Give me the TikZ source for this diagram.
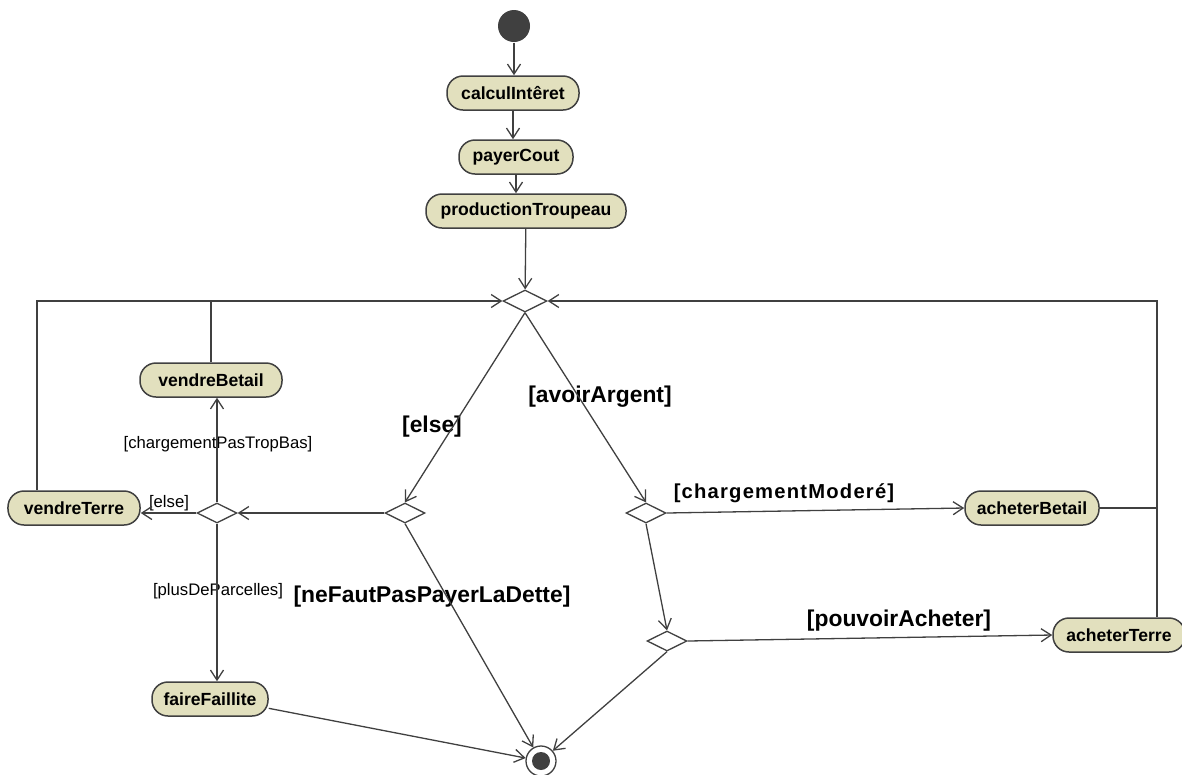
\documentclass[tikz,border=0pt]{standalone}
\usepackage{fontspec}
\setmainfont{Liberation Sans}
\usepackage{tikz}
\usetikzlibrary{arrows.meta,shapes.geometric}

\definecolor{actfill}{RGB}{226,224,190}
\definecolor{dark}{RGB}{64,64,64}

\begin{document}
\begin{tikzpicture}[x=0.2mm,y=-0.2mm,line width=0.26mm,
  >={Straight Barb[length=2mm,width=2.6mm]},
  act/.style={draw=dark,fill=actfill,rounded corners=3.2mm,minimum height=6.8mm,inner sep=0pt,line width=0.3mm,font=\bfseries\fontsize{10}{12}\selectfont},
  dec/.style={diamond,draw=dark,fill=white,minimum width=8mm,minimum height=4mm,inner sep=0pt},
  initial/.style={circle,fill=dark,minimum size=6.4mm,inner sep=0pt},
  final/.style={circle,draw=dark,fill=white,minimum size=6mm,inner sep=0pt,
    path picture={\fill[dark] (path picture bounding box.center) circle (1.8mm);}},
  guard/.style={inner sep=0pt,font=\fontsize{9.5}{11}\selectfont},
  bguard/.style={inner sep=0pt,font=\bfseries\fontsize{13}{15}\selectfont},
  flow/.style={->,draw=dark}]
\useasboundingbox (0,0) rectangle (1182,774);

\node[initial] (0) at (514,26) {};
\node[act,minimum width=26.4mm] (1) at (513,93) {calculIntêret};
\node[act,minimum width=22.8mm] (2) at (516,157) {payerCout};
\node[act,minimum width=40mm] (3) at (526,211) {productionTroupeau};

\node[dec,minimum width=8.8mm,minimum height=4.4mm] (4) at (525,301) {};
\node[dec] (5) at (405,513) {};
\node[dec] (6) at (646,513) {};
\node[dec] (7) at (217,513) {};
\node[dec] (8) at (667,641) {};

\node[act,minimum width=28.4mm] (9) at (211,380) {vendreBetail};
\node[act,minimum width=26.4mm] (10) at (74,508) {vendreTerre};
\node[act,minimum width=23.2mm] (11) at (210,699) {faireFaillite};
\node[act,minimum width=26.8mm] (12) at (1032,508) {acheterBetail};
\node[act,minimum width=26.4mm] (13) at (1119,635) {acheterTerre};

\node[final] (14) at (541,761) {};
\coordinate (r) at (1157,301);

% guards
\node[bguard] (g1) at (432,427) {[else]};
\node[bguard] (g2) at (600,397) {[avoirArgent]};
\node[guard] (g3) at (218,444) {[chargementPasTropBas]};
\node[guard] (g4) at (169,503) {[else]};
\node[guard] (g5) at (218,591) {[plusDeParcelles]};
\node[bguard] (g6) at (432,597) {[neFautPasPayerLaDette]};
\node[bguard,font=\bfseries\fontsize{11.5}{14}\selectfont\addfontfeature{LetterSpace=6}] (g7) at (784,493) {[chargementModeré]};
\node[bguard] (g8) at (899,621) {[pouvoirAcheter]};

\draw[flow] (0) -- (0 |- 1.north);
\draw[flow] (1.south) -- (1.south |- 2.north);
\draw[flow] (2.south) -- (2.south |- 3.north);
\draw[flow] (3) -- (4);

\draw[flow] (4.south) -- (5.north);
\draw[flow] (4.south) -- (6.north);
\draw[flow] (5.west) -- (7.east);
\draw[flow] (7.west) -- (7.west -| 10.east);
\draw[flow] (7.north) -- (7.north |- 9.south);
\draw[flow] (7.south) -- (7.south |- 11.north);
\draw[flow] (5.south) -- (14);
\draw[flow] (11.-9) -- (14);

\draw[flow] (6.east) -- (12.west);
\draw[flow] (6.south) -- (8.north);
\draw[flow] (8.east) -- (13.west);
\draw[flow] (8.south) -- (14);

% back to the merge
\draw[flow] ([xshift=-7.4mm]10.north) |- (4.west);
\draw[dark] (9.north) -- (9.north |- 4);
\draw[flow] (12.east) -| (r) -- (4.east);
\draw[dark] (13.north -| r) -- (12.east -| r);
\end{tikzpicture}
\end{document}
